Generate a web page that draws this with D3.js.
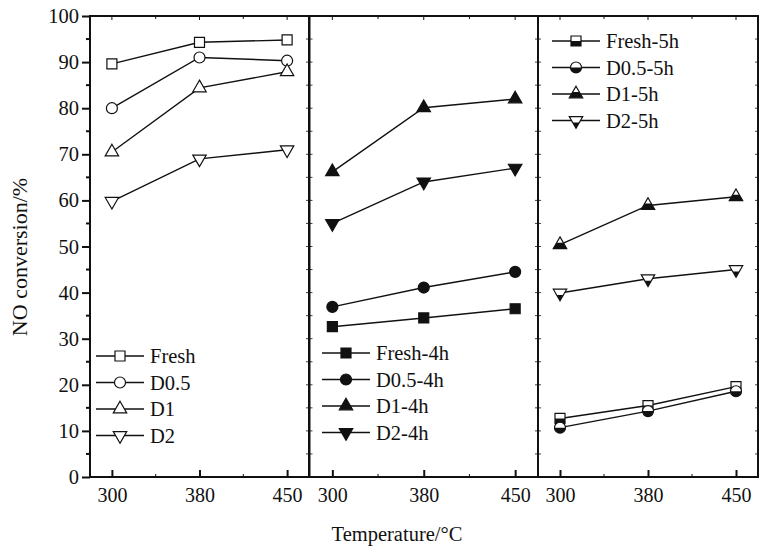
<!DOCTYPE html>
<html lang="en">
<head>
  <meta charset="UTF-8">
  <title>NO conversion</title>
  <script src="https://d3js.org/d3.v7.min.js"></script>
  <style>
    body { margin: 0; background: #fff; }
    svg text { font-family: "Liberation Serif", "Times New Roman", serif; fill: #111; }
  </style>
</head>
<body>
  <div id="chart"></div>
  <script>
    // data
    const temps = ["300", "380", "450"];
    const yTicks = [0, 10, 20, 30, 40, 50, 60, 70, 80, 90, 100];

    const freshNames = ["Fresh", "D0.5", "D1", "D2"];
    const fresh = [
      [89.6, 94.3, 94.8],
      [80.0, 91.0, 90.3],
      [70.5, 84.4, 87.9],
      [59.8, 69.0, 71.0]
    ];
    const h4Names = ["Fresh-4h", "D0.5-4h", "D1-4h", "D2-4h"];
    const h4 = [
      [32.6, 34.5, 36.5],
      [36.9, 41.1, 44.5],
      [66.2, 80.1, 82.0],
      [55.0, 64.0, 67.0]
    ];
    const h5Names = ["Fresh-5h", "D0.5-5h", "D1-5h", "D2-5h"];
    const h5 = [
      [12.7, 15.5, 19.6],
      [10.7, 14.3, 18.6],
      [50.4, 58.9, 60.8],
      [39.9, 43.0, 45.0]
    ];

    const shapes = ["square", "circle", "up", "down"];

    const W = 762, H = 557;
    const yTop = 16, yBot = 477;
    const ink = "#111";

    const svg = d3.select("#chart").append("svg")
      .attr("width", W).attr("height", H);

    // clip for the lower half of a marker (half filled style)
    svg.append("defs").append("clipPath")
      .attr("id", "lowerHalf")
      .attr("clipPathUnits", "objectBoundingBox")
      .append("rect").attr("x", -0.1).attr("y", 0.5).attr("width", 1.2).attr("height", 0.6);

    const y = d3.scaleLinear().domain([0, 100]).range([yBot, yTop]);

    const panels = [
      { range: [90, 309], names: freshNames, data: fresh, fill: "open", legend: [96, 356] },
      { range: [309.5, 538], names: h4Names, data: h4, fill: "solid", legend: [322, 353] },
      { range: [538, 758], names: h5Names, data: h5, fill: "half", legend: [552, 41] }
    ];

    function symbolPath(shape) {
      if (shape === "square") return d3.symbol(d3.symbolSquare, 100)();
      if (shape === "circle") return d3.symbol(d3.symbolCircle, 95)();
      return d3.symbol(d3.symbolTriangle, 78)();
    }

    function drawMarker(g, cx, cy, shape, fill) {
      const m = g.append("g")
        .attr("transform", `translate(${cx},${cy})`);
      const rot = shape === "down" ? "rotate(180)" : null;
      const d = symbolPath(shape);
      m.append("path").attr("d", d).attr("transform", rot)
        .attr("fill", fill === "solid" ? ink : "#fff")
        .attr("stroke", ink).attr("stroke-width", 1.2);
      if (fill === "half") {
        // lower half in screen space: wrap so bbox is unrotated
        m.append("g").attr("clip-path", "url(#lowerHalf)")
          .append("path").attr("d", d).attr("transform", rot)
          .attr("fill", ink);
      }
    }

    panels.forEach((p, pi) => {
      const x = d3.scalePoint().domain(temps).range(p.range).padding(0.25);
      const g = svg.append("g");
      const step = x.step();

      // minor x positions (midpoints)
      const minorX = [];
      for (let i = 0; i < temps.length - 1; i++) minorX.push(x(temps[i]) + step / 2);

      // bottom axis with inward ticks
      const xAxis = g.append("g").attr("transform", `translate(0,${yBot})`)
        .call(d3.axisBottom(x).tickSizeInner(-7).tickSizeOuter(0).tickPadding(23));
      xAxis.select(".domain").remove();
      xAxis.selectAll(".tick line").attr("stroke", ink).attr("stroke-width", 2);
      xAxis.selectAll(".tick text").attr("font-size", 20).attr("dy", "0.1em").style("fill", ink);
      g.selectAll(".minorB").data(minorX).enter().append("line")
        .attr("x1", d => d).attr("x2", d => d)
        .attr("y1", yBot).attr("y2", yBot - 3)
        .attr("stroke", ink).attr("stroke-width", 1);

      // top ticks
      g.selectAll(".majT").data(temps).enter().append("line")
        .attr("x1", d => x(d)).attr("x2", d => x(d))
        .attr("y1", yTop).attr("y2", yTop + 4)
        .attr("stroke", ink).attr("stroke-width", 1);
      g.selectAll(".minT").data(minorX).enter().append("line")
        .attr("x1", d => d).attr("x2", d => d)
        .attr("y1", yTop).attr("y2", yTop + 3)
        .attr("stroke", ink).attr("stroke-width", 1);

      // side ticks inside each panel
      const sideTicks = d3.range(5, 100, 5);
      [p.range[0], p.range[1]].forEach((sx, si) => {
        if (pi === 0 && si === 0) return;
        const dir = si === 0 ? 1 : -1;
        g.selectAll(null).data(sideTicks).enter().append("line")
          .attr("x1", sx).attr("x2", sx + dir * 3)
          .attr("y1", d => y(d)).attr("y2", d => y(d))
          .attr("stroke", ink).attr("stroke-width", 0.8);
      });

      // frame
      g.append("rect")
        .attr("x", p.range[0]).attr("y", yTop)
        .attr("width", p.range[1] - p.range[0]).attr("height", yBot - yTop)
        .attr("fill", "none").attr("stroke", ink).attr("stroke-width", 2);

      // series
      const line = d3.line().x((d, i) => x(temps[i])).y(d => y(d));
      p.data.forEach((vals, si) => {
        g.append("path").datum(vals).attr("d", line)
          .attr("fill", "none").attr("stroke", ink).attr("stroke-width", 1.4);
        vals.forEach((v, i) => drawMarker(g, x(temps[i]), y(v), shapes[si], p.fill));
      });

      // legend
      const [lx, ly] = p.legend;
      p.names.forEach((name, si) => {
        const yy = ly + si * 26.5;
        g.append("line").attr("x1", lx).attr("x2", lx + 48)
          .attr("y1", yy).attr("y2", yy)
          .attr("stroke", ink).attr("stroke-width", 1.4);
        drawMarker(g, lx + 24, yy, shapes[si], p.fill);
        g.append("text").attr("x", lx + 54).attr("y", yy).attr("dy", "0.35em")
          .attr("font-size", 20.5).text(name);
      });
    });

    // left y axis, outward ticks
    const yAxis = svg.append("g").attr("transform", "translate(90,0)")
      .call(d3.axisLeft(y).tickValues(yTicks).tickSizeInner(8).tickSizeOuter(0).tickPadding(3));
    yAxis.select(".domain").remove();
    yAxis.selectAll(".tick line").attr("stroke", ink).attr("stroke-width", 2);
    yAxis.selectAll(".tick text").attr("font-size", 20.5).style("fill", ink);
    svg.selectAll(".minorY").data(d3.range(5, 100, 10)).enter().append("line")
      .attr("x1", 90).attr("x2", 86)
      .attr("y1", d => y(d)).attr("y2", d => y(d))
      .attr("stroke", ink).attr("stroke-width", 2);

    // axis titles
    svg.append("text")
      .attr("transform", "translate(27,257) rotate(-90)")
      .attr("text-anchor", "middle").attr("font-size", 22)
      .text("NO conversion/%");
    svg.append("text")
      .attr("x", 397).attr("y", 541)
      .attr("text-anchor", "middle").attr("font-size", 20.5)
      .text("Temperature/°C");
  </script>
</body>
</html>
